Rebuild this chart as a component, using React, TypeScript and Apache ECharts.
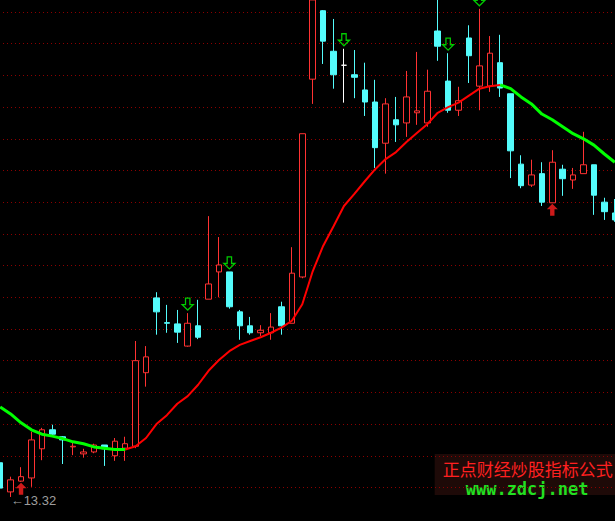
import React, { useEffect, useRef } from "react";
import * as echarts from "echarts";

// [open, close, low, high]
const candles: number[][] = [
  [13.86, 13.46, 13.42, 13.94],
  [13.40, 13.59, 13.32, 13.64],
  [13.57, 13.64, 13.56, 13.79],
  [13.62, 14.22, 13.48, 14.35],
  [14.08, 14.38, 13.90, 14.41],
  [14.38, 14.31, 14.27, 14.46],
  [14.27, 14.22, 13.84, 14.28],
  [14.11, 14.12, 13.98, 14.19],
  [14.00, 14.03, 13.94, 14.08],
  [14.03, 14.14, 14.01, 14.16],
  [14.14, 14.08, 13.81, 14.14],
  [13.97, 14.20, 13.89, 14.25],
  [14.09, 14.16, 13.89, 14.27],
  [14.12, 15.47, 14.09, 15.78],
  [15.28, 15.53, 15.06, 15.70],
  [16.46, 16.24, 15.88, 16.55],
  [16.07, 16.06, 15.91, 16.35],
  [16.05, 15.92, 15.75, 16.27],
  [15.70, 16.06, 15.69, 16.22],
  [16.02, 15.84, 15.81, 16.43],
  [16.44, 16.68, 16.44, 17.75],
  [16.87, 16.98, 16.47, 17.42],
  [16.87, 16.32, 16.29, 16.87],
  [16.24, 16.02, 15.80, 16.27],
  [16.02, 15.91, 15.88, 16.16],
  [15.91, 15.95, 15.86, 16.03],
  [15.91, 16.00, 15.80, 16.22],
  [16.32, 16.02, 15.88, 16.40],
  [16.06, 16.85, 16.06, 17.26],
  [16.79, 19.05, 16.77, 19.05],
  [19.91, 21.16, 19.52, 21.16],
  [20.99, 20.51, 20.15, 21.00],
  [20.35, 19.98, 19.76, 20.86],
  [20.13, 20.13, 19.54, 20.39],
  [19.98, 19.94, 19.61, 20.37],
  [19.74, 19.55, 19.33, 20.17],
  [19.55, 18.83, 18.51, 19.90],
  [18.90, 19.52, 18.42, 19.61],
  [19.27, 19.19, 18.92, 19.63],
  [19.22, 19.63, 19.00, 20.04],
  [19.38, 19.41, 19.19, 20.34],
  [19.22, 19.72, 19.16, 20.06],
  [20.67, 20.43, 20.20, 21.16],
  [19.88, 19.42, 19.38, 20.32],
  [19.42, 19.57, 19.33, 19.79],
  [20.56, 20.28, 19.85, 20.76],
  [19.80, 20.12, 19.42, 21.02],
  [19.80, 20.32, 19.71, 20.59],
  [20.17, 19.77, 19.63, 20.61],
  [19.68, 18.78, 18.35, 19.68],
  [18.57, 18.23, 18.19, 18.71],
  [18.24, 18.40, 18.21, 18.64],
  [18.42, 17.97, 17.91, 18.60],
  [17.96, 18.60, 17.96, 18.79],
  [18.49, 18.34, 18.07, 18.56],
  [18.32, 18.40, 18.18, 18.51],
  [18.42, 18.56, 18.42, 19.08],
  [18.56, 18.08, 17.77, 18.56],
  [17.97, 17.82, 17.69, 18.04],
  [17.80, 17.69, 17.66, 18.02],
];

const ma: number[] = [
  14.74, 14.63, 14.49, 14.38, 14.31, 14.28, 14.24, 14.19, 14.16, 14.11,
  14.09, 14.07, 14.07, 14.12, 14.25, 14.47, 14.61, 14.79, 14.91, 15.09,
  15.31, 15.48, 15.62, 15.72, 15.78, 15.84, 15.91, 15.99, 16.10, 16.36,
  16.88, 17.28, 17.59, 17.91, 18.10, 18.30, 18.49, 18.65, 18.76, 18.92,
  19.06, 19.20, 19.38, 19.47, 19.54, 19.65, 19.76, 19.80, 19.82, 19.76,
  19.63, 19.52, 19.36, 19.27, 19.16, 19.05, 18.97, 18.87, 18.73, 18.60,
];

const sellSignals: number[] = [18, 22, 33, 43, 46];
const buySignals: number[] = [2, 53];
const whiteDoji: number[] = [33];
const gridValues: number[] = [
  13.47, 13.97, 14.47, 14.97, 15.47, 15.97, 16.47, 16.97,
  17.47, 17.97, 18.47, 18.97, 19.47, 19.97, 20.47, 20.97,
];
const lowIndex = 1;
const lowValue = 13.32;
const watermarkTitle = "正点财经炒股指标公式";
const watermarkUrl = "www.zdcj.net";

const RED = "#ff3232";
const CYAN = "#54fcfc";

const DOWN_ARROW = "path://M3,0 L7,0 L7,6 L10,6 L5,11 L0,6 L3,6 Z";
const UP_ARROW = "path://M5,0 L10,5 L7,5 L7,11 L3,11 L3,5 L0,5 Z";

// the plot is widened so the first and last candles sit half off-screen
const SHIFT = 4.7;

export default function App() {
  const ref = useRef<HTMLDivElement>(null);

  useEffect(() => {
    if (!ref.current) return;
    const chart = echarts.init(ref.current, undefined, { renderer: "svg" });
    const n = candles.length;
    const categories = candles.map((_, i) => String(i + 1));

    const candleData = candles.map((c, i) =>
      whiteDoji.includes(i)
        ? {
            value: c,
            itemStyle: {
              color: "#ffffff",
              color0: "#ffffff",
              borderColor: "#ffffff",
              borderColor0: "#ffffff",
              borderColorDoji: "#ffffff",
            },
          }
        : c
    );

    const rising = (i: number) => ma[i + 1] > ma[i];
    const redLine = ma.map((v, i) =>
      (i > 0 && rising(i - 1)) || (i < n - 1 && rising(i)) ? v : null
    );
    const greenLine = ma.map((v, i) =>
      (i > 0 && !rising(i - 1)) || (i < n - 1 && !rising(i)) ? v : null
    );

    const option: any = {
      backgroundColor: "#000000",
      animation: false,
      grid: { left: 0, right: 0, top: 0, bottom: 0 },
      xAxis: {
        type: "category",
        data: categories,
        show: false,
        boundaryGap: true,
      },
      yAxis: {
        type: "value",
        min: 12.941,
        max: 21.159,
        show: false,
        splitLine: { show: false },
      },
      series: [
        {
          type: "candlestick",
          data: candleData,
          barWidth: 6,
          itemStyle: {
            color: "#000000",
            color0: CYAN,
            borderColor: RED,
            borderColor0: CYAN,
            borderWidth: 1,
          },
          markLine: {
            silent: true,
            z: 1,
            symbol: ["none", "none"],
            label: { show: false },
            lineStyle: { color: "#8c0000", type: [1, 3], width: 1 },
            emphasis: { disabled: true },
            data: gridValues.map((v) => ({ yAxis: v })),
          },
        },
        {
          type: "line",
          data: redLine,
          showSymbol: false,
          connectNulls: false,
          lineStyle: { color: "#ff0000", width: 2 },
          z: 3,
        },
        {
          type: "line",
          data: greenLine,
          showSymbol: false,
          connectNulls: false,
          lineStyle: { color: "#00ff00", width: 3 },
          z: 3,
        },
        {
          type: "scatter",
          data: sellSignals.map((i) => [i, candles[i][3]]),
          symbol: DOWN_ARROW,
          symbolSize: [11, 12],
          symbolOffset: [0, -9],
          itemStyle: { color: "rgba(0,0,0,0)", borderColor: "#00ff00", borderWidth: 1.3 },
          z: 4,
        },
        {
          type: "scatter",
          data: buySignals.map((i) => [i, candles[i][2]]),
          symbol: UP_ARROW,
          symbolSize: [11, 12],
          symbolOffset: [0, 7],
          itemStyle: { color: "#ff2020" },
          z: 4,
        },
        {
          type: "scatter",
          data: [[lowIndex, lowValue]],
          symbolSize: 0,
          label: {
            show: true,
            formatter: "←" + lowValue.toFixed(2),
            position: "right",
            distance: 0,
            offset: [0, 4],
            color: "#c8c8c8",
            fontSize: 13,
            fontFamily: "Liberation Sans",
          },
          z: 5,
        },
      ],
      graphic: [
        {
          type: "group",
          z: 100,
          children: [
            {
              type: "rect",
              shape: { x: 435 + SHIFT, y: 454, width: 185, height: 41 },
              style: { fill: "#1e0a08" },
            },
            {
              type: "text",
              x: 443 + SHIFT,
              y: 468,
              style: {
                text: watermarkTitle,
                fill: "#ff2020",
                font: '17px "Noto Sans CJK SC"',
                textAlign: "left",
                textVerticalAlign: "middle",
              },
            },
            {
              type: "text",
              x: 466 + SHIFT,
              y: 489,
              style: {
                text: watermarkUrl,
                fill: "#22e022",
                font: 'bold 17px "DejaVu Sans Mono"',
                textAlign: "left",
                textVerticalAlign: "middle",
              },
            },
          ],
        },
      ],
    };
    chart.setOption(option);
    return () => chart.dispose();
  }, []);

  return (
    <div
      ref={ref}
      style={{
        position: "fixed",
        left: -SHIFT,
        top: 0,
        width: 615 + SHIFT + 5.2,
        height: 521,
        background: "#000",
      }}
    />
  );
}
